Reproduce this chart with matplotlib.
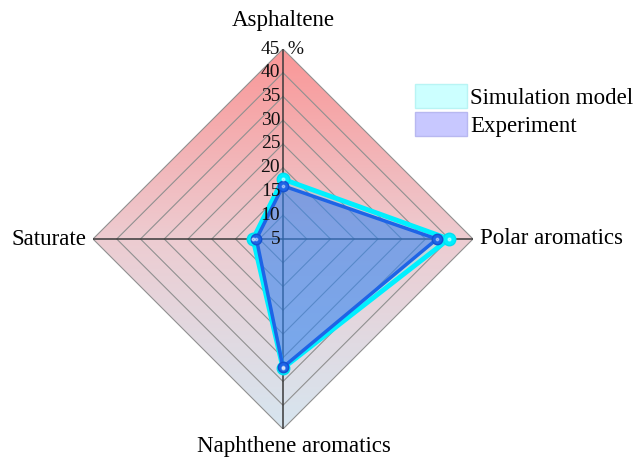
import numpy as np
import matplotlib
matplotlib.use("Agg")
import matplotlib.pyplot as plt
from matplotlib.patches import Polygon, Patch
from matplotlib.colors import LinearSegmentedColormap
from matplotlib.transforms import offset_copy

categories = ["Asphaltene", "Polar aromatics", "Naphthene aromatics", "Saturate"]
simulation = [17.6, 39.9, 32.2, 11.3]
experiment = [16.2, 37.4, 32.0, 10.6]
ring_levels = [10, 15, 20, 25, 30, 35, 40, 45]
tick_labels = ["5", "10", "15", "20", "25", "30", "35", "40", "45"]
r_min, r_max = 5, 45

plt.rcParams["font.family"] = ["Liberation Serif", "DejaVu Serif"]

fig = plt.figure(figsize=(6.33, 4.58), dpi=100)
pos = [93 / 633, 29 / 458, 380 / 633, 380 / 458]

# background gradient diamond (cartesian axes underneath)
bg = fig.add_axes(pos, zorder=0)
bg.set_xlim(-1, 1)
bg.set_ylim(-1, 1)
bg.set_aspect("equal")
bg.axis("off")
cmap = LinearSegmentedColormap.from_list("bg", [(0.84, 0.90, 0.94), (0.93, 0.80, 0.82), (0.98, 0.59, 0.59)])
grad = np.linspace(0, 1, 256).reshape(-1, 1)
im = bg.imshow(grad, extent=[-1, 1, -1, 1], origin="lower", cmap=cmap, aspect="auto")
diamond = Polygon([(0, 1), (1, 0), (0, -1), (-1, 0)], closed=True, transform=bg.transData, facecolor="none", edgecolor="none")
bg.add_patch(diamond)
im.set_clip_path(diamond)

ax = fig.add_axes(pos, projection="polar", zorder=1)
ax.set_facecolor("none")
ax.set_theta_offset(np.pi / 2)
ax.set_theta_direction(-1)
ax.set_ylim(r_min, r_max)
ax.grid(False)
ax.spines["polar"].set_visible(False)
ax.set_xticks([])
ax.set_yticks([])

n = len(categories)
angles = np.arange(n) * 2 * np.pi / n
ang_closed = np.append(angles, angles[0])

# rings
for lev in ring_levels:
    ax.plot(ang_closed, [lev] * (n + 1), color="#909090", lw=0.8, zorder=1)
# spokes
for a in angles:
    ax.plot([a, a], [r_min, r_max], color="#3a3a3a", lw=1.1, zorder=2)

sim_c = np.append(simulation, simulation[0])
exp_c = np.append(experiment, experiment[0])
ax.fill(ang_closed, sim_c, color="#00ffff", alpha=0.18, zorder=3)
ax.plot(ang_closed, sim_c, color="#00f0ff", lw=3.5, zorder=4)
ax.plot(angles, simulation, "o", color="#00f0ff", ms=9, zorder=5, markeredgecolor="#00e0f0")
ax.fill(ang_closed, exp_c, color="#3c70f0", alpha=0.5, zorder=6)
ax.plot(ang_closed, exp_c, color="#1e64e6", lw=2.5, zorder=7)
ax.plot(angles, experiment, "o", color="#1e64e6", ms=7.5, zorder=8, markeredgecolor="#1450d0")
ax.plot(angles, simulation, "o", color="white", ms=2.0, alpha=0.5, zorder=9)
ax.plot(angles, experiment, "o", color="white", ms=1.8, alpha=0.4, zorder=9)

# radial tick labels along top spoke
lab_tr = offset_copy(ax.transData, fig=fig, x=-2, y=0, units="points")
for lab in tick_labels:
    ax.text(0, float(lab), lab, transform=lab_tr, ha="right", va="center", fontsize=14, color="#111111", zorder=10)
ax.text(0, r_max, " %", transform=offset_copy(ax.transData, fig=fig, x=0, y=0, units="points"),
        ha="left", va="center", fontsize=14, color="#111111", zorder=10)

# category labels
ax.text(angles[0], r_max, categories[0], transform=offset_copy(ax.transData, fig=fig, x=0, y=13, units="points"),
        ha="center", va="bottom", fontsize=16.5)
ax.text(angles[1], r_max, categories[1], transform=offset_copy(ax.transData, fig=fig, x=5, y=0, units="points"),
        ha="left", va="center", fontsize=16.5)
ax.text(angles[2], r_max, categories[2], transform=offset_copy(ax.transData, fig=fig, x=8, y=-5, units="points"),
        ha="center", va="top", fontsize=16.5)
ax.text(angles[3], r_max, categories[3], transform=offset_copy(ax.transData, fig=fig, x=-5, y=0, units="points"),
        ha="right", va="center", fontsize=16.5)

handles = [Patch(facecolor="#ccffff", edgecolor="#b8f4f4", label="Simulation model"),
           Patch(facecolor="#c8c8ff", edgecolor="#b8b8f0", label="Experiment")]
fig.legend(handles=handles, loc="upper left", bbox_to_anchor=(397 / 633, 1 - 66 / 458), frameon=False,
           fontsize=16.5, handlelength=2.25, handleheight=1.2, labelspacing=0.15, handletextpad=0.15, borderpad=0.3)

fig.savefig("out.png", dpi=100)
